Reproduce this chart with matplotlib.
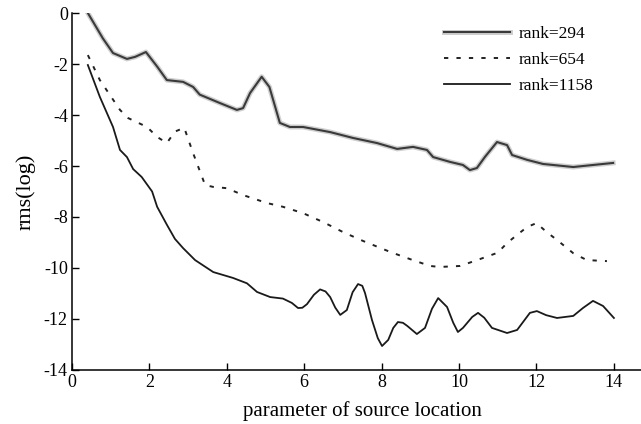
import matplotlib
matplotlib.use("Agg")
import matplotlib.pyplot as plt
import matplotlib.patheffects as pe

plt.rcParams['font.family'] = ['Liberation Serif', 'DejaVu Serif']
plt.rcParams['axes.unicode_minus'] = False

# rank = 294
x294 = [0.41, 0.8, 1.06, 1.42, 1.63, 1.91, 2.2, 2.45, 2.87, 3.13, 3.3, 3.82, 4.26, 4.42,
        4.6, 4.9, 5.1, 5.37, 5.63, 5.97, 6.67, 7.26, 7.88, 8.4, 8.81, 9.17, 9.33, 9.77,
        10.1, 10.28, 10.46, 10.67, 10.98, 11.24, 11.37, 11.76, 12.17, 12.95, 13.46, 13.98]
y294 = [0.0, -1.0, -1.57, -1.8, -1.72, -1.53, -2.1, -2.63, -2.7, -2.9, -3.2, -3.53, -3.8, -3.73,
        -3.14, -2.5, -2.9, -4.31, -4.47, -4.47, -4.67, -4.9, -5.1, -5.33, -5.25, -5.37, -5.65, -5.84,
        -5.96, -6.16, -6.08, -5.64, -5.06, -5.18, -5.57, -5.76, -5.92, -6.04, -5.96, -5.88]

# rank = 654
x654 = [0.41, 0.72, 1.24, 1.45, 1.94, 2.2, 2.45, 2.66, 2.9, 3.13, 3.44, 3.65, 4.0, 4.42,
        5.03, 5.45, 5.97, 6.49, 7.0, 7.52, 8.22, 8.73, 9.25, 9.5, 10.03, 10.54, 11.0,
        11.24, 11.5, 11.76, 12.0, 12.27, 12.53, 12.95, 13.3, 13.82]
y654 = [-1.65, -2.63, -3.8, -4.12, -4.47, -4.86, -5.1, -4.65, -4.5, -5.5, -6.75, -6.82, -6.87, -7.14,
        -7.45, -7.6, -7.85, -8.2, -8.59, -8.94, -9.37, -9.65, -9.92, -9.96, -9.92, -9.65, -9.4,
        -9.02, -8.7, -8.39, -8.24, -8.6, -8.9, -9.42, -9.69, -9.73]

# rank = 1158
x1158 = [0.41, 0.72, 1.06, 1.24, 1.42, 1.58, 1.8, 2.07, 2.2, 2.45, 2.66, 2.87, 3.18, 3.65,
         4.16, 4.52, 4.78, 5.12, 5.45, 5.68, 5.84, 5.95, 6.07, 6.25, 6.41, 6.55, 6.67, 6.8, 6.93, 7.1, 7.25, 7.39, 7.5, 7.57,
         7.75, 7.9, 8.01, 8.17, 8.3, 8.42, 8.55, 8.66, 8.91, 9.12, 9.3, 9.46, 9.69, 9.85, 9.97, 10.1, 10.34, 10.49,
         10.65, 10.85, 11.24, 11.5, 11.83, 12.01, 12.25, 12.53, 12.95, 13.2, 13.46, 13.72, 14.0]
y1158 = [-2.04, -3.29, -4.47, -5.37, -5.65, -6.12, -6.43, -7.0, -7.6, -8.3, -8.86, -9.22, -9.69, -10.16,
         -10.39, -10.6, -10.94, -11.14, -11.2, -11.37, -11.57, -11.56, -11.42, -11.05, -10.84, -10.92, -11.14, -11.55, -11.84, -11.65, -10.95, -10.63, -10.7, -10.98,
         -12.04, -12.75, -13.06, -12.82, -12.35, -12.12, -12.15, -12.27, -12.59, -12.35, -11.6, -11.18, -11.53, -12.15, -12.51, -12.35, -11.92, -11.76,
         -11.95, -12.35, -12.55, -12.43, -11.76, -11.69, -11.85, -11.96, -11.88, -11.57, -11.29, -11.49, -11.96]

fig = plt.figure(figsize=(6.41, 4.24), dpi=100)
ax = fig.add_axes([0.1123, 0.1274, 0.8877, 0.8419])

halo = [pe.Stroke(linewidth=3.6, foreground='#cfcfcf'), pe.Normal()]
l1, = ax.plot(x294, y294, color='#3a3a3a', lw=1.5, solid_joinstyle='round',
              path_effects=halo, label='rank=294')
l2, = ax.plot(x654, y654, color='#222222', lw=1.4, dashes=(2.2, 4.2), label='rank=654')
l3, = ax.plot(x1158, y1158, color='#1a1a1a', lw=1.3, solid_joinstyle='round', label='rank=1158')

ax.set_xlim(0, 14.7)
ax.set_ylim(-14, 0)
ax.set_xticks([0, 2, 4, 6, 8, 10, 12, 14])
ax.set_yticks([0, -2, -4, -6, -8, -10, -12, -14])
ax.spines['top'].set_visible(False)
ax.spines['right'].set_visible(False)
ax.tick_params(direction='in', length=5, width=1, labelsize=13, pad=3)
for s in ('left', 'bottom'):
    ax.spines[s].set_linewidth(1.1)

ax.set_xlabel('parameter of source location', fontsize=15)
ax.xaxis.set_label_coords(0.51, -0.088)
ax.set_ylabel('rms(log)', fontsize=16, labelpad=6)

leg = ax.legend(handles=[l1, l2, l3], loc='upper right', frameon=False, fontsize=12.5,
                handlelength=3.8, handletextpad=0.5, labelspacing=0.55,
                bbox_to_anchor=(0.944, 1.007))

fig.savefig('out.png', dpi=100)
